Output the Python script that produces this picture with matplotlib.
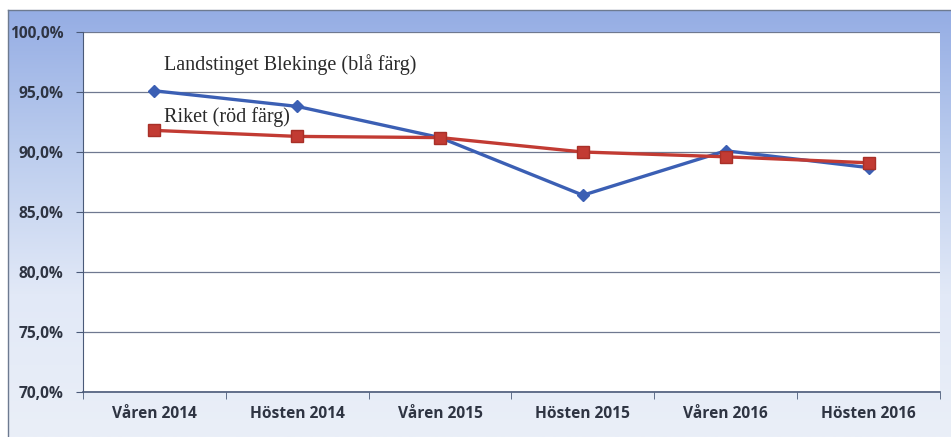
import numpy as np
import matplotlib as mpl
mpl.use("Agg")
import matplotlib.pyplot as plt
from matplotlib.colors import LinearSegmentedColormap

# data
categories = ["Våren 2014", "Hösten 2014", "Våren 2015",
              "Hösten 2015", "Våren 2016", "Hösten 2016"]
blekinge = [95.1, 93.8, 91.2, 86.4, 90.1, 88.7]
riket = [91.8, 91.3, 91.2, 90.0, 89.6, 89.1]
yticks = [70, 75, 80, 85, 90, 95, 100]

W, H = 951, 437
fig = plt.figure(figsize=(W / 100, H / 100), dpi=100)
fig.patch.set_facecolor("white")

# blue gradient frame
bg = fig.add_axes([8 / W, 0, 1 - 8 / W, 1 - 10 / H])
cmap = LinearSegmentedColormap.from_list("bg", ["#95ade4", "#bccdee", "#e2e9f7", "#eaeff8"])
grad = np.linspace(0, 1, 256).reshape(-1, 1)
bg.imshow(grad, aspect="auto", cmap=cmap, extent=[0, 1, 0, 1], origin="upper")
bg.set_xlim(0, 1)
bg.set_ylim(0, 1)
bg.set_xticks([])
bg.set_yticks([])
for s in bg.spines.values():
    s.set_color("#6d7a90")
    s.set_linewidth(1.0)
bg.spines["right"].set_visible(False)
bg.spines["bottom"].set_visible(False)

ax = fig.add_axes([83 / W, 1 - 392 / H, (940 - 83) / W, (392 - 32) / H])
ax.set_facecolor("white")
x = np.arange(len(categories))

ax.plot(x, blekinge, color="#3b5fb4", lw=2.4, marker="D", ms=6,
        markerfacecolor="#3b5fb4", markeredgecolor="#3b5fb4", zorder=3)
ax.plot(x, riket, color="#c23b33", lw=2.4, marker="s", ms=9,
        markerfacecolor="#c23b33", markeredgecolor="#a83028", zorder=4)

ax.set_xlim(-0.5, len(categories) - 0.5)
ax.set_ylim(70, 100)
ax.set_yticks(yticks)
ax.set_yticklabels([f"{v:.1f}%".replace(".", ",") for v in yticks])
ax.set_xticks(x)
ax.set_xticklabels(categories)
ax.set_xticks(np.arange(-0.5, len(categories)), minor=True)
ax.tick_params(axis="x", which="major", length=0, pad=10)
ax.tick_params(axis="x", which="minor", length=5, direction="out", color="#4a5a78")
ax.tick_params(axis="y", length=5, direction="out", color="#4a5a78", pad=9)
for lab in ax.get_xticklabels() + ax.get_yticklabels():
    lab.set_fontfamily("Open Sans")
    lab.set_fontweight("bold")
    lab.set_fontsize(11.2)
    lab.set_color("#2e3442")

ax.grid(axis="y", color="#6f7890", lw=0.9)
ax.set_axisbelow(True)
for side in ["top", "right"]:
    ax.spines[side].set_visible(False)
ax.spines["left"].set_color("#4a5a78")
ax.spines["bottom"].set_color("#4a5a78")
ax.spines["bottom"].set_linewidth(1.2)

ax.text(0.07, 97.3, "Landstinget Blekinge (blå färg)", family="Liberation Serif",
        fontsize=14.5, color="#2a2a2a", va="center", ha="left")
ax.text(0.07, 92.9, "Riket (röd färg)", family="Liberation Serif",
        fontsize=14.5, color="#2a2a2a", va="center", ha="left")

fig.savefig("out.png", dpi=100)
